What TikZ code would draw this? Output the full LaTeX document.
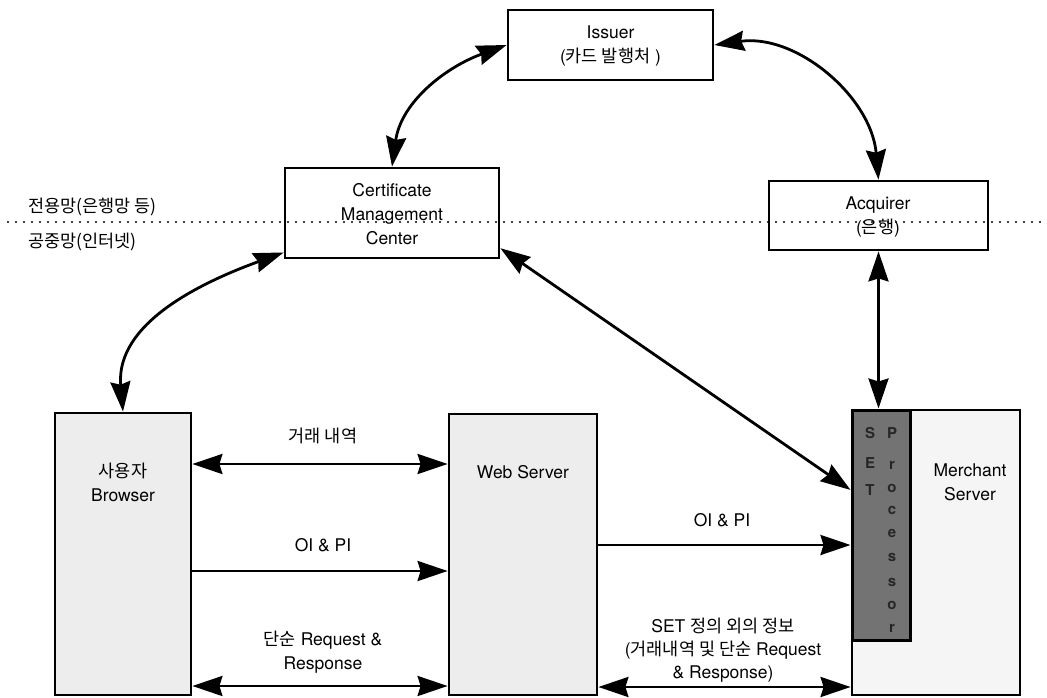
\documentclass[tikz,border=0pt]{standalone}
\usepackage{fontspec}
\setmainfont{TeX Gyre Heros}
\newfontfamily\kr{Noto Sans CJK KR}
\usetikzlibrary{arrows.meta,calc}
\begin{document}
\begin{tikzpicture}[x=1pt,y=-1pt,
  every node/.style={font=\fontsize{17.5}{24}\selectfont, inner sep=0pt},
  box/.style={draw, line width=2.8pt, fill=white},
  shadebox/.style={box, fill=black!7},
  txt/.style={align=center},
  conn/.style={line width=2.8pt, -{Stealth[length=30pt,width=20pt,inset=3pt]}},
  dconn/.style={line width=2.8pt, {Stealth[length=30pt,width=20pt,inset=3pt]}-{Stealth[length=30pt,width=20pt,inset=3pt]}},
  setl/.style={font=\fontsize{15}{15}\selectfont\bfseries, text=black!85},
  dotline/.style={line width=2.4pt, line cap=round, dash pattern=on 0pt off 8pt},
]
\useasboundingbox (0,0) rectangle (1047,697);

% boxes
\node[box, minimum width=205pt, minimum height=70pt] (iss) at (610.5,45) {};
\node[box, minimum width=214pt, minimum height=90pt] (cmc) at (392,213) {};
\node[box, minimum width=219pt, minimum height=69pt] (acq) at (878.5,215.5) {};
\node[shadebox, minimum width=136pt, minimum height=282pt] (br) at (123,554) {};
\node[shadebox, minimum width=148pt, minimum height=281pt] (ws) at (523,554.5) {};
\node[box, fill=black!4, minimum width=168pt, minimum height=285pt] (ms) at (936,552.5) {};
\node[box, fill=black!55, line width=3pt, minimum width=58pt, minimum height=230pt] (set) at (881,525) {};

% dotted boundary
\coordinate (dl) at (8,222);
\coordinate (dr) at (1047,222);
\draw[dotline] (dl) -- (dr);

% box texts
\node[txt] (isst) at (610.5,45.5) {Issuer\\({\kr 카드 발행처} )};
\node[txt] (cmct) at (392,214) {Certificate\\Management\\Center};
\node[txt] (acqt) at (878,217) {Acquirer\\({\kr 은행})};
\node[txt] (brt) at (123,482) {{\kr 사용자}\\Browser};
\node (wst) at (523,472) {Web Server};
\node[txt] (mst) at (970,482) {Merchant\\Server};

\foreach \ch/\yy [count=\i] in {S/433,E/463,T/490}
  \node[setl] (sa\i) at (870,\yy) {\ch};
\foreach \ch/\yy [count=\i] in {P/433,r/465,o/488,c/510,e/533,s/557,s/582,o/605,r/628}
  \node[setl] (sb\i) at (892,\yy) {\ch};

% network labels
\node[anchor=west] (pl1) at (28,207) {\kr 전용망(은행망 등)};
\node[anchor=west] (pl2) at (28,242) {\kr 공중망(인터넷)};

% curved connectors
\draw[dconn] (cmc.north) to[out=82,in=200] (iss.west);
\draw[dconn] (iss.east) to[out=8,in=95] (acq.north);
\draw[dconn] (br.north) to[out=95,in=200] (cmc.200);
\draw[dconn] (cmc.-18) -- (set.131);
\draw[dconn] (acq.south) -- (acq.south |- set.north);

% horizontal connectors
\coordinate (h1) at (0,464);
\coordinate (h2) at (0,571);
\coordinate (h3) at (0,686);
\coordinate (h4) at (0,545);
\coordinate (h5) at (0,687);
\draw[dconn] (br.east |- h1) -- (ws.west |- h1);
\draw[conn] (br.east |- h2) -- (ws.west |- h2);
\draw[dconn] (br.east |- h3) -- (ws.west |- h3);
\draw[conn] (ws.east |- h4) -- (set.west |- h4);
\draw[dconn] (ws.east |- h5) -- (ms.west |- h5);

% connector labels
\node (l1) at (323,436) {\kr 거래 내역};
\node (l2) at (323,545) {OI \& PI};
\node[txt] (l3) at (323,652) {{\kr 단순} Request \&\\Response};
\node (l4) at (722,520) {OI \& PI};
\node[txt, font=\fontsize{17.5}{23}\selectfont] (l5) at (723,650) {SET {\kr 정의 외의 정보}\\({\kr 거래내역 및 단순} Request\\\& Response)};
\end{tikzpicture}
\end{document}
